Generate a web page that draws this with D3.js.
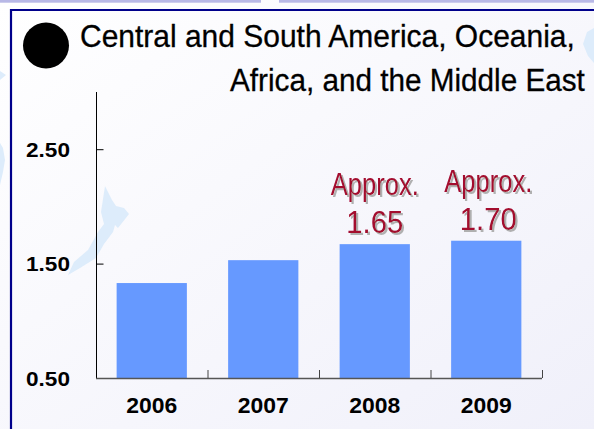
<!DOCTYPE html>
<html>
<head>
<meta charset="utf-8">
<script src="https://cdn.jsdelivr.net/npm/d3@7"></script>
<style>
  html, body { margin: 0; padding: 0; background: #f7f7fd; }
  svg { display: block; }
</style>
</head>
<body>
<svg id="chart" width="594" height="429"></svg>
<script>
// ---- data ----
const years = ["2006", "2007", "2008", "2009"];
const values = [1.33, 1.53, 1.67, 1.70];
const annotations = [null, null, "1.65", "1.70"];
const annotationPrefix = "Approx.";
const yTicks = [0.5, 1.5, 2.5];
const titleLines = ["Central and South America, Oceania,", "Africa, and the Middle East"];

const W = 594, H = 429;
const svg = d3.select("#chart");
const font = "'Liberation Sans', Arial, sans-serif";
const narrow = "'Liberation Sans Narrow', 'Arial Narrow', 'Liberation Sans', Arial, sans-serif";

// background gradient
const defs = svg.append("defs");
const grad = defs.append("linearGradient").attr("id", "bg")
  .attr("x1", "0").attr("y1", "0").attr("x2", "1").attr("y2", "1");
grad.append("stop").attr("offset", "0").attr("stop-color", "#ffffff");
grad.append("stop").attr("offset", "1").attr("stop-color", "#f0f0fa");
svg.append("rect").attr("width", W).attr("height", H).attr("fill", "url(#bg)");

const shadow = defs.append("filter").attr("id", "shadow")
  .attr("x", "-10%").attr("y", "-10%").attr("width", "130%").attr("height", "140%");
shadow.append("feDropShadow").attr("dx", 2).attr("dy", 2).attr("stdDeviation", 0.6)
  .attr("flood-color", "#a8a8a8").attr("flood-opacity", 0.9);

// top lavender strip
svg.append("rect").attr("x", 0).attr("y", 0).attr("width", 261).attr("height", 2.7).attr("fill", "#b8b8e6");
svg.append("rect").attr("x", 279).attr("y", 0).attr("width", W - 279).attr("height", 2.7).attr("fill", "#b8b8e6");

// faint decorative shapes
const deco = svg.append("g").attr("fill", "#ddecfb");
deco.append("path").attr("d", "M105,186 L112,200 L116,206 L124,208 L129,214 L118,228 L115,225 L113,232 L104,244 L96,258 L80,268 L68,275 L74,262 L88,250 L98,232 L104,224 L101,212 Z");
deco.append("path").attr("d", "M0,143 L3,148 L5,160 L3,172 L0,185 Z");
deco.append("path").attr("d", "M0,71 L6,75 L0,80 Z");
deco.append("path").attr("d", "M594,28 L587,32 L583,44 L588,56 L594,63 Z");

// frame
svg.append("path").attr("d", `M11,${H + 5} L11,10 L${W + 5},10`)
  .attr("fill", "none").attr("stroke", "#00008b").attr("stroke-width", 2.2);

// title (horizontally condensed via transform so bounding boxes stay true)
svg.append("circle").attr("cx", 46).attr("cy", 45.5).attr("r", 23).attr("fill", "#000");
function condensedText(str, x0, yBase, targetW) {
  const g = svg.append("g");
  const t = g.append("text").attr("x", 0).attr("y", 0)
    .attr("font-family", narrow).attr("font-size", 31)
    .attr("fill", "#000").attr("stroke", "#000").attr("stroke-width", 0.3)
    .text(str);
  const natural = t.node().getComputedTextLength();
  const sx = Math.min(1, targetW / natural);
  g.attr("transform", `translate(${x0},${yBase}) scale(${sx},1)`);
}
condensedText(titleLines[0], 80, 46.5, 495);
condensedText(titleLines[1], 230, 90.5, 355);

// scales
const x = d3.scaleBand().domain(years).range([96, 542]).paddingInner(0).paddingOuter(0);
const y = d3.scaleLinear().domain([0.5, 3.0]).range([378, 92]);
const barW = x.bandwidth() * 0.63;

// bars
svg.append("g").selectAll("rect").data(years).join("rect")
  .attr("x", d => x(d) + (x.bandwidth() - barW) / 2)
  .attr("width", barW)
  .attr("y", (d, i) => y(values[i]))
  .attr("height", (d, i) => y(0.5) - y(values[i]))
  .attr("fill", "#6699ff");

// y axis
const yAxis = d3.axisRight(y).tickValues(yTicks).tickSize(7).tickFormat("");
const ya = svg.append("g").attr("transform", "translate(96,0)").call(yAxis);
ya.select(".domain").attr("d", `M0.5,${y(3.0)}V${y(0.5)}`).attr("stroke", "#000");
ya.selectAll(".tick line").attr("stroke", "#000").attr("x1", 0.5).attr("x2", 7.5);

svg.append("g").selectAll("text").data(yTicks).join("text")
  .attr("x", 26).attr("y", d => y(d) + 7.5)
  .attr("font-family", font)
  .attr("font-weight", "bold").attr("font-size", 21).attr("fill", "#000")
  .attr("textLength", 44).attr("lengthAdjust", "spacingAndGlyphs")
  .text(d => d3.format(".2f")(d));

// x axis
const xa = svg.append("g");
xa.append("line").attr("x1", 96).attr("x2", 542).attr("y1", y(0.5) + 0.5).attr("y2", y(0.5) + 0.5)
  .attr("stroke", "#555").attr("stroke-width", 1.5);
const xTickPos = years.slice(1).map(d => x(d)).concat([x.range()[1]]);
xa.selectAll("line.t").data(xTickPos).join("line").attr("class", "t")
  .attr("x1", d => d + 0.5).attr("x2", d => d + 0.5)
  .attr("y1", y(0.5)).attr("y2", y(0.5) - 8)
  .attr("stroke", "#444").attr("stroke-width", 1);

svg.append("g").selectAll("text").data(years).join("text")
  .attr("x", d => x(d) + x.bandwidth() / 2 - 25.5)
  .attr("y", 412.5)
  .attr("font-family", font)
  .attr("font-weight", "bold").attr("font-size", 22).attr("fill", "#000")
  .attr("textLength", 51).attr("lengthAdjust", "spacingAndGlyphs")
  .text(d => d);

// annotations
const ann = svg.append("g").attr("filter", "url(#shadow)");
years.forEach((d, i) => {
  if (!annotations[i]) return;
  const cx = x(d) + x.bandwidth() / 2 + (i === 3 ? 2 : 0);
  const numBase = y(values[i]) - 11;
  const appBase = numBase - 38;
  ann.append("text").attr("x", cx - 44).attr("y", appBase)
    .attr("font-family", font)
    .attr("font-size", 31).attr("fill", "#a30a2e")
    .attr("textLength", 88).attr("lengthAdjust", "spacingAndGlyphs")
    .text(annotationPrefix);
  ann.append("text").attr("x", cx - 28.5).attr("y", numBase)
    .attr("font-family", font)
    .attr("font-size", 31).attr("fill", "#a30a2e")
    .attr("textLength", 57).attr("lengthAdjust", "spacingAndGlyphs")
    .text(annotations[i]);
});
</script>
</body>
</html>
